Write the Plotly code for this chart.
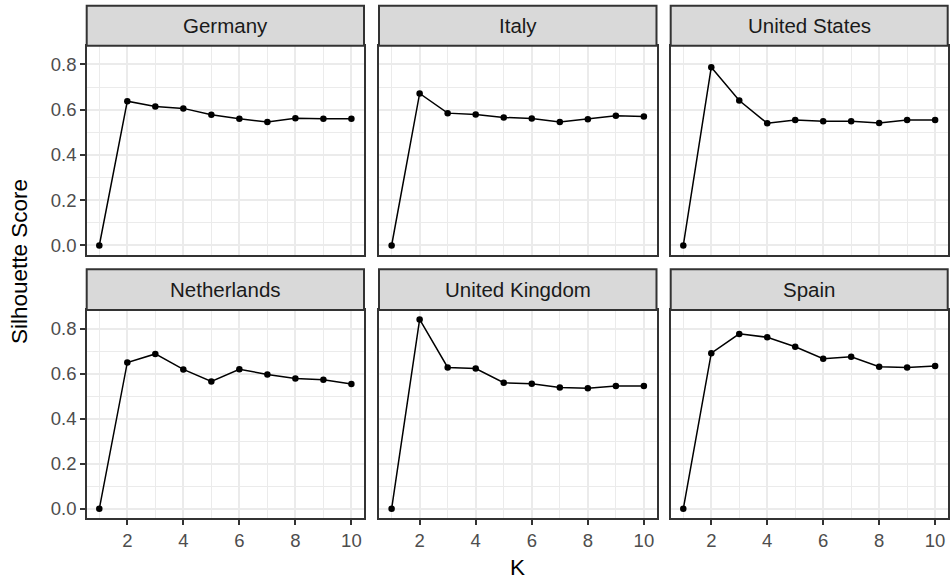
import plotly.graph_objects as go

# Silhouette scores for K = 1..10 clusters, per country
k_values = [1, 2, 3, 4, 5, 6, 7, 8, 9, 10]
countries = ["Germany", "Italy", "United States", "Netherlands", "United Kingdom", "Spain"]

germany = [0.0, 0.638, 0.614, 0.606, 0.578, 0.560, 0.546, 0.562, 0.560, 0.560]
italy = [0.0, 0.672, 0.585, 0.579, 0.566, 0.561, 0.546, 0.558, 0.573, 0.570]
united_states = [0.0, 0.788, 0.641, 0.540, 0.555, 0.549, 0.549, 0.541, 0.555, 0.555]
netherlands = [0.0, 0.650, 0.688, 0.619, 0.566, 0.620, 0.597, 0.579, 0.573, 0.554]
united_kingdom = [0.0, 0.841, 0.628, 0.623, 0.560, 0.556, 0.539, 0.536, 0.546, 0.546]
spain = [0.0, 0.691, 0.777, 0.762, 0.720, 0.667, 0.675, 0.631, 0.628, 0.634]

series = [germany, italy, united_states, netherlands, united_kingdom, spain]

W, H = 950, 581
FONT = "Liberation Sans, Arial, sans-serif"
TICK_SIZE = 18.5
STRIP_SIZE = 20.5
TITLE_SIZE = 22.5

# panel geometry in pixels
col_x = [(86.7, 364.0), (379.0, 656.5), (670.7, 947.7)]
row_plot = [(45.7, 255.0), (310.0, 518.3)]
row_strip = [(5.7, 45.7), (269.3, 310.0)]

def px_x(v):
    return v / W

def px_y(v):
    return 1 - v / H

ymax = max(max(s) for s in series)
ymin = min(min(s) for s in series)
yspan = ymax - ymin
y_range = [ymin - 0.05 * yspan, ymax + 0.05 * yspan]
x_range = [1 - 0.45, 10 + 0.45]

fig = go.Figure()
layout = {}
shapes = []
annotations = []

for i, (name, vals) in enumerate(zip(countries, series)):
    r, c = divmod(i, 3)
    idx = i + 1
    xa = "x" if idx == 1 else f"x{idx}"
    ya = "y" if idx == 1 else f"y{idx}"
    fig.add_trace(go.Scatter(
        x=k_values, y=vals, mode="lines+markers",
        line=dict(color="black", width=1.5),
        marker=dict(color="black", size=6.5),
        xaxis=xa, yaxis=ya, showlegend=False, cliponaxis=False,
    ))
    x0, x1 = col_x[c]
    y0, y1 = row_plot[r]
    bottom = r == 1
    left = c == 0
    layout["xaxis" if idx == 1 else f"xaxis{idx}"] = dict(
        domain=[px_x(x0), px_x(x1)], range=x_range, anchor=ya,
        tickmode="linear", tick0=0, dtick=2,
        showticklabels=bottom, ticks="outside" if bottom else "",
        ticklen=4.5, tickwidth=1.5, tickcolor="#333333",
        tickfont=dict(family=FONT, size=TICK_SIZE, color="#4D4D4D"),
        showgrid=True, gridcolor="#EBEBEB", gridwidth=1.8,
        minor=dict(dtick=1, tick0=0, showgrid=True, gridcolor="#EBEBEB", gridwidth=0.9),
        showline=True, mirror=True, linecolor="#333333", linewidth=2,
        zeroline=False, fixedrange=True,
    )
    layout["yaxis" if idx == 1 else f"yaxis{idx}"] = dict(
        domain=[px_y(y1), px_y(y0)], range=y_range, anchor=xa,
        tickmode="linear", tick0=0, dtick=0.2, tickformat=".1f",
        showticklabels=left, ticks="outside" if left else "",
        ticklen=4.5, tickwidth=1.5, tickcolor="#333333",
        tickfont=dict(family=FONT, size=TICK_SIZE, color="#4D4D4D"),
        showgrid=True, gridcolor="#EBEBEB", gridwidth=1.8,
        minor=dict(dtick=0.1, tick0=0, showgrid=True, gridcolor="#EBEBEB", gridwidth=0.9),
        showline=True, mirror=True, linecolor="#333333", linewidth=2,
        zeroline=False, fixedrange=True,
    )
    # facet strip
    s0, s1 = row_strip[r]
    shapes.append(dict(
        type="rect", xref="paper", yref="paper",
        x0=px_x(x0), x1=px_x(x1), y0=px_y(s1), y1=px_y(s0),
        fillcolor="#D9D9D9", line=dict(color="#333333", width=2), layer="above",
    ))
    annotations.append(dict(
        text=name, xref="paper", yref="paper",
        x=px_x((x0 + x1) / 2), y=px_y((s0 + s1) / 2),
        showarrow=False, xanchor="center", yanchor="middle",
        font=dict(family=FONT, size=STRIP_SIZE, color="#1A1A1A"),
    ))

annotations.append(dict(
    text="K", xref="paper", yref="paper",
    x=px_x((col_x[0][0] + col_x[2][1]) / 2), y=px_y(567),
    showarrow=False, xanchor="center", yanchor="middle",
    font=dict(family=FONT, size=TITLE_SIZE, color="black"),
))
annotations.append(dict(
    text="Silhouette Score", xref="paper", yref="paper",
    x=px_x(19), y=px_y((row_strip[0][0] + row_plot[1][1]) / 2),
    showarrow=False, xanchor="center", yanchor="middle", textangle=-90,
    font=dict(family=FONT, size=TITLE_SIZE, color="black"),
))

fig.update_layout(
    **layout,
    width=W, height=H,
    margin=dict(l=0, r=0, t=0, b=0),
    paper_bgcolor="white", plot_bgcolor="white",
    shapes=shapes, annotations=annotations,
)

fig.write_html("out.html")
